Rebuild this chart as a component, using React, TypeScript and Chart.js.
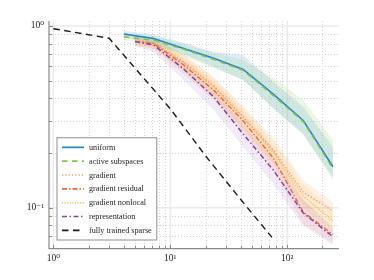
import React, { useEffect, useRef } from "react";
import { Chart, registerables } from "chart.js";
Chart.register(...registerables);

// ---------- data ----------
const xUniform = [4, 7.2, 13, 23.5, 42, 76, 137, 246];
const xGradient = [5, 7.2, 13, 23.5, 42, 76, 137, 246];
const xSparse = [1, 3, 10, 20, 40, 74];

const uniform = [0.904, 0.853, 0.752, 0.664, 0.576, 0.422, 0.302, 0.168];
const uniformHi = [0.939, 0.904, 0.806, 0.722, 0.692, 0.494, 0.358, 0.216];
const uniformLo = [0.87, 0.796, 0.701, 0.597, 0.504, 0.352, 0.254, 0.146];

const activeSub = [0.873, 0.835, 0.745, 0.655, 0.57, 0.414, 0.298, 0.164];
const activeHi = [0.915, 0.881, 0.796, 0.71, 0.65, 0.517, 0.391, 0.236];
const activeLo = [0.837, 0.786, 0.684, 0.587, 0.504, 0.354, 0.254, 0.142];

const gradient = [0.827, 0.811, 0.634, 0.467, 0.316, 0.2077, 0.122, 0.0959];
const gradientHi = [0.881, 0.87, 0.701, 0.524, 0.363, 0.2418, 0.142, 0.1075];
const gradientLo = [0.786, 0.757, 0.573, 0.412, 0.2746, 0.1784, 0.1048, 0.0813];

const gradResidual = [0.822, 0.801, 0.61, 0.444, 0.3, 0.1877, 0.0947, 0.0712];
const gradResidualHi = [0.87, 0.848, 0.667, 0.492, 0.336, 0.2131, 0.1102, 0.0793];
const gradResidualLo = [0.776, 0.747, 0.544, 0.391, 0.261, 0.1612, 0.0813, 0.0639];

const gradNonlocal = [0.827, 0.806, 0.626, 0.461, 0.312, 0.2025, 0.116, 0.0845];
const gradNonlocalHi = [0.881, 0.859, 0.692, 0.517, 0.354, 0.2329, 0.135, 0.0971];
const gradNonlocalLo = [0.786, 0.757, 0.565, 0.407, 0.2677, 0.1718, 0.0996, 0.0735];

const representation = [0.82, 0.786, 0.58, 0.407, 0.2544, 0.1612, 0.0935, 0.0692];
const representationHi = [0.859, 0.817, 0.634, 0.444, 0.285, 0.183, 0.1102, 0.0774];
const representationLo = [0.776, 0.719, 0.504, 0.345, 0.2158, 0.135, 0.0793, 0.0623];

const sparse = [0.966, 0.856, 0.35, 0.193, 0.111, 0.0687];

const legendLabels = [
  "uniform",
  "active subspaces",
  "gradient",
  "gradient residual",
  "gradient nonlocal",
  "representation",
  "fully trained sparse",
];

const xTickValues = [1, 10, 100];
const yTickValues = [0.1, 1];
const xRange = [0.918, 277];
const yRange = [0.0595, 1.065];

// ---------- styles ----------
const FONT = "'Liberation Serif', 'DejaVu Serif', serif";
const styles = [
  { color: "#2384c6", dash: [] as number[], width: 1.5 },
  { color: "#86c052", dash: [5.5, 4.5], width: 1.6 },
  { color: "#f39a7c", dash: [1.3, 2], width: 1.4 },
  { color: "#e8683a", dash: [5, 2, 1.5, 2], width: 1.4 },
  { color: "#f0b72e", dash: [1, 1.6], width: 1.3 },
  { color: "#8a3ea8", dash: [5, 2.5, 1.5, 2.5], width: 1.5 },
  { color: "#1a1a1a", dash: [6.5, 4.5], width: 1.4 },
];

const pts = (xs: number[], ys: number[]) => xs.map((x, i) => ({ x, y: ys[i] }));

const supMap: Record<string, string> = {
  "0": "\u2070", "1": "\u00B9", "2": "\u00B2", "3": "\u00B3", "-": "\u207B",
};
const sup = (v: number) =>
  "10" + String(Math.round(Math.log10(v))).split("").map((c) => supMap[c] || c).join("");

function logTicks(min: number, max: number) {
  const out: { v: number; major: boolean }[] = [];
  for (let e = Math.floor(Math.log10(min)); e <= Math.ceil(Math.log10(max)); e++) {
    for (let m = 1; m <= 9; m++) {
      const v = m * Math.pow(10, e);
      if (v >= min * 0.9999 && v <= max * 1.0001) out.push({ v, major: m === 1 });
    }
  }
  return out;
}

const gridPlugin = {
  id: "makieGrid",
  beforeDatasetsDraw(chart: any) {
    const { ctx, chartArea, scales } = chart;
    const { left, right, top, bottom } = chartArea;
    const xs = logTicks(scales.x.min, scales.x.max);
    const ys = logTicks(scales.y.min, scales.y.max);
    ctx.save();
    ctx.strokeStyle = "#d2d2d2";
    ctx.lineWidth = 1;
    ctx.setLineDash([1, 2]);
    for (const t of xs) {
      if (t.major) continue;
      const px = Math.round(scales.x.getPixelForValue(t.v)) + 0.5;
      ctx.beginPath(); ctx.moveTo(px, top); ctx.lineTo(px, bottom); ctx.stroke();
    }
    for (const t of ys) {
      if (t.major) continue;
      const py = Math.round(scales.y.getPixelForValue(t.v)) + 0.5;
      ctx.beginPath(); ctx.moveTo(left, py); ctx.lineTo(right, py); ctx.stroke();
    }
    ctx.setLineDash([]);
    ctx.strokeStyle = "#ebebeb";
    ctx.lineWidth = 1.6;
    for (const t of xs) {
      if (!t.major) continue;
      const px = scales.x.getPixelForValue(t.v);
      ctx.beginPath(); ctx.moveTo(px, top); ctx.lineTo(px, bottom); ctx.stroke();
    }
    for (const t of ys) {
      if (!t.major) continue;
      const py = scales.y.getPixelForValue(t.v);
      ctx.beginPath(); ctx.moveTo(left, py); ctx.lineTo(right, py); ctx.stroke();
    }
    ctx.restore();
  },
  afterDatasetsDraw(chart: any) {
    const { ctx, chartArea, scales } = chart;
    const { left, right, top, bottom } = chartArea;
    ctx.save();
    ctx.strokeStyle = "#8a8a8a";
    ctx.lineWidth = 1.2;
    ctx.beginPath();
    ctx.moveTo(left, top); ctx.lineTo(left, bottom); ctx.lineTo(right, bottom);
    ctx.stroke();
    ctx.lineWidth = 1;
    for (const t of logTicks(scales.x.min, scales.x.max)) {
      const px = Math.round(scales.x.getPixelForValue(t.v)) + 0.5;
      ctx.beginPath(); ctx.moveTo(px, bottom); ctx.lineTo(px, bottom - (t.major ? 4 : 3)); ctx.stroke();
    }
    for (const t of logTicks(scales.y.min, scales.y.max)) {
      const py = Math.round(scales.y.getPixelForValue(t.v)) + 0.5;
      ctx.beginPath(); ctx.moveTo(left, py); ctx.lineTo(left + (t.major ? 4 : 3), py); ctx.stroke();
    }
    // legend
    ctx.font = `8.2px ${FONT}`;
    const rowH = 13.83;
    let maxW = 0;
    for (const l of legendLabels) maxW = Math.max(maxW, ctx.measureText(l).width);
    const bx = left + 8;
    const bh = legendLabels.length * rowH + 5.5;
    const by = bottom - 8.7 - bh;
    const bw = 32 + maxW + 5;
    ctx.fillStyle = "#ffffff";
    ctx.fillRect(bx, by, bw, bh);
    ctx.strokeStyle = "#9a9a9a";
    ctx.lineWidth = 1.1;
    ctx.strokeRect(bx, by, bw, bh);
    legendLabels.forEach((lab, i) => {
      const cy = by + 2.75 + rowH * (i + 0.5);
      const s = styles[i];
      ctx.strokeStyle = s.color;
      ctx.lineWidth = s.width + 0.2;
      ctx.setLineDash(s.dash);
      ctx.beginPath(); ctx.moveTo(bx + 5, cy); ctx.lineTo(bx + 27, cy); ctx.stroke();
      ctx.setLineDash([]);
      ctx.fillStyle = "#222";
      ctx.textBaseline = "middle";
      ctx.textAlign = "left";
      ctx.fillText(lab, bx + 32, cy + 0.5);
    });
    ctx.restore();
  },
};

export default function App() {
  const ref = useRef<HTMLCanvasElement>(null);
  useEffect(() => {
    document.body.style.margin = "0";
    const seriesX = [xUniform, xUniform, xGradient, xGradient, xGradient, xGradient, xSparse];
    const seriesY = [uniform, activeSub, gradient, gradResidual, gradNonlocal, representation, sparse];
    // draw order: first dataset drawn on top
    const lineOrder = [1, 0, 5, 3, 2, 4, 6];
    const lineSets = lineOrder.map((i) => ({
      label: legendLabels[i],
      data: pts(seriesX[i], seriesY[i]),
      borderColor: styles[i].color,
      borderWidth: styles[i].width,
      borderDash: styles[i].dash,
      pointRadius: 0,
      fill: false,
      tension: 0,
    }));
    const bands = [
      { xs: xUniform, hi: uniformHi, lo: uniformLo, c: "rgba(110,175,225,0.22)" },
      { xs: xUniform, hi: activeHi, lo: activeLo, c: "rgba(170,215,120,0.22)" },
      { xs: xGradient, hi: gradientHi, lo: gradientLo, c: "rgba(246,165,120,0.16)" },
      { xs: xGradient, hi: gradResidualHi, lo: gradResidualLo, c: "rgba(236,120,70,0.13)" },
      { xs: xGradient, hi: gradNonlocalHi, lo: gradNonlocalLo, c: "rgba(246,195,70,0.15)" },
      { xs: xGradient, hi: representationHi, lo: representationLo, c: "rgba(160,100,200,0.13)" },
    ];
    const bandSets: any[] = [];
    bands.forEach((b, k) => {
      bandSets.push({
        label: "band-hi-" + k,
        data: pts(b.xs, b.hi),
        borderWidth: 0,
        borderColor: "rgba(0,0,0,0)",
        pointRadius: 0,
        fill: false,
        tension: 0,
      });
      bandSets.push({
        label: "band-lo-" + k,
        data: pts(b.xs, b.lo),
        borderWidth: 0,
        borderColor: "rgba(0,0,0,0)",
        backgroundColor: b.c,
        pointRadius: 0,
        fill: "-1",
        tension: 0,
      });
    });

    const chart = new Chart(ref.current as HTMLCanvasElement, {
      type: "line",
      data: { datasets: [...lineSets, ...bandSets] as any },
      options: {
        animation: false,
        responsive: false,
        layout: { padding: { top: 21, right: 35, left: 0, bottom: 0 } },
        plugins: { legend: { display: false }, tooltip: { enabled: false } },
        scales: {
          x: {
            type: "logarithmic",
            min: xRange[0],
            max: xRange[1],
            grid: { display: false, drawTicks: false },
            border: { display: false },
            afterBuildTicks: (s: any) => {
              s.ticks = xTickValues.map((v) => ({ value: v }));
            },
            afterFit: (s: any) => {
              s.height = 31.3;
            },
            ticks: {
              autoSkip: false,
              maxRotation: 0,
              padding: 4,
              color: "#222",
              font: { family: FONT, size: 9.5 },
              callback: (v: any) => sup(Number(v)),
            },
          },
          y: {
            type: "logarithmic",
            min: yRange[0],
            max: yRange[1],
            grid: { display: false, drawTicks: false },
            border: { display: false },
            afterBuildTicks: (s: any) => {
              s.ticks = yTickValues.map((v) => ({ value: v }));
            },
            afterFit: (s: any) => {
              s.width = 49;
            },
            ticks: {
              autoSkip: false,
              padding: 5,
              color: "#222",
              font: { family: FONT, size: 9.5 },
              callback: (v: any) => sup(Number(v)),
            },
          },
        },
      },
      plugins: [gridPlugin],
    });
    return () => chart.destroy();
  }, []);
  return (
    <div style={{ width: 374, height: 280 }}>
      <canvas ref={ref} width={374} height={280} style={{ display: "block" }} />
    </div>
  );
}
